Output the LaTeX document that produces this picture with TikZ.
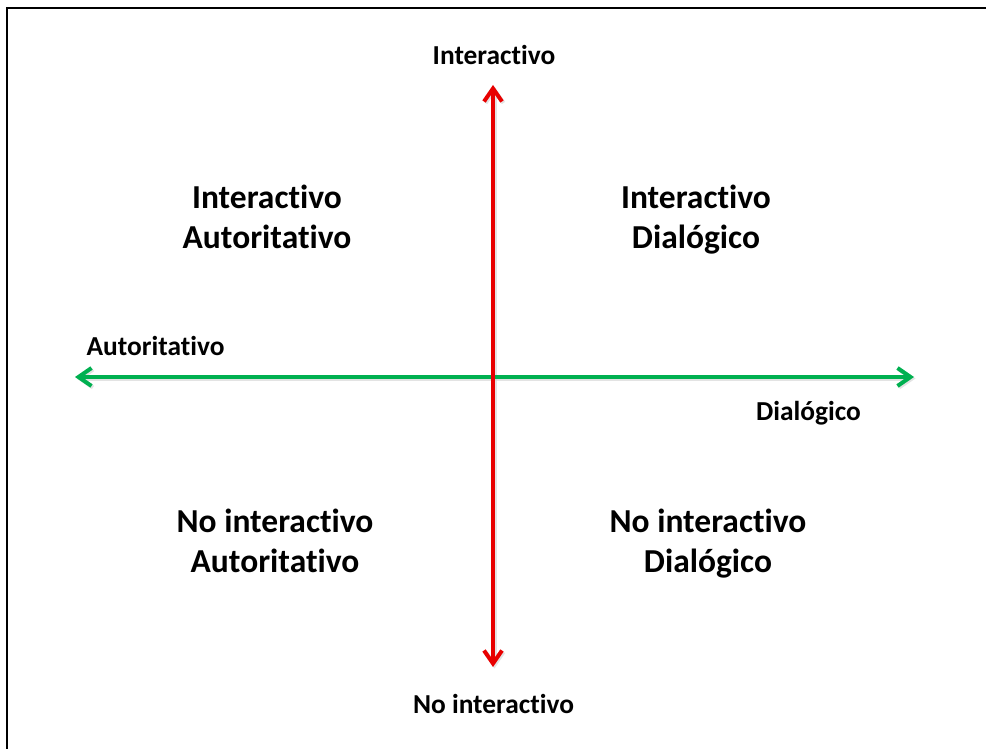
\documentclass[tikz,border=0pt]{standalone}
\usepackage{fontspec}
\setmainfont{Carlito}[Ligatures={NoCommon,NoDiscretionary}]
\usetikzlibrary{arrows.meta}
\definecolor{axisred}{RGB}{232,0,0}
\definecolor{axisgreen}{RGB}{0,176,80}
\begin{document}
\begin{tikzpicture}[x=1pt,y=-1pt,
  quadlabel/.style={font=\bfseries\fontsize{33.5}{40}\selectfont, align=center, inner sep=0pt, anchor=base},
  axislabel/.style={font=\bfseries\fontsize{27.4}{33}\selectfont, inner sep=0pt, anchor=base},
  axisline/.style={line width=4pt, {Straight Barb[length=13pt,width=18pt]}-{Straight Barb[length=13pt,width=18pt]}},
  axisshadow/.style={axisline, draw=black!18, opacity=0.6},
  ]
\useasboundingbox (0,0) rectangle (986,749);
% open frame: only the top and left edges fall inside the page
\begin{scope}
  \clip (0,0) rectangle (986,749);
  \draw[line width=2.5pt] (7,770) -- (7,8) -- (1010,8);
\end{scope}

% axis end points
\coordinate (vtop) at (493,85);
\coordinate (vbot) at (493,667);
\coordinate (hleft) at (75,377);
\coordinate (hright) at (914,377);
\coordinate (vtops) at (494.5,86.5);
\coordinate (vbots) at (494.5,668.5);
\coordinate (hlefts) at (76.5,378.5);
\coordinate (hrights) at (915.5,378.5);

% soft shadows under the axes
\draw[axisshadow] (hlefts) -- (hrights);
\draw[axisshadow] (vbots) -- (vtops);
% axes
\draw[axisline, draw=axisgreen] (hleft) -- (hright);
\draw[axisline, draw=axisred] (vbot) -- (vtop);

% axis labels
\node[axislabel] (lblint) at (494,65) {Interactivo};
\node[axislabel] (lblaut) at (155.5,355) {Autoritativo};
\node[axislabel] (lbldia) at (808.5,420) {Dialógico};
\node[axislabel] (lblnoint) at (493.5,713) {No interactivo};

% quadrant labels (anchored on the baseline of the second line)
\node[quadlabel] (qia) at (267,248) {Interactivo\\Autoritativo};
\node[quadlabel] (qid) at (696,248) {Interactivo\\Dialógico};
\node[quadlabel] (qna) at (275,572) {No interactivo\\Autoritativo};
\node[quadlabel] (qnd) at (708,572) {No interactivo\\Dialógico};
\end{tikzpicture}
\end{document}
